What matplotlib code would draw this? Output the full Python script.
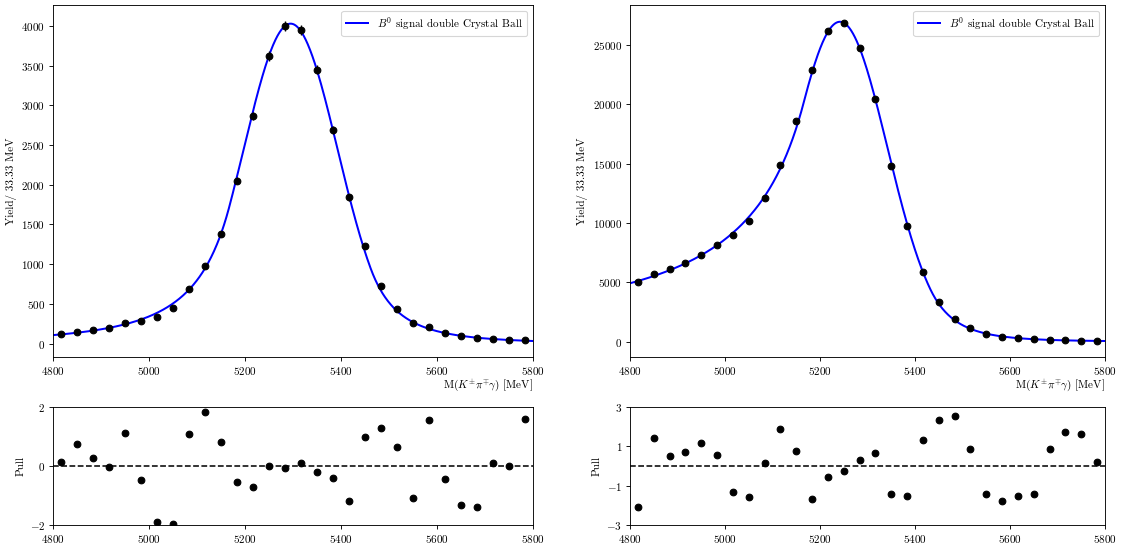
import numpy as np
import matplotlib
matplotlib.use("Agg")
import matplotlib.pyplot as plt

plt.rcParams["font.family"] = "serif"
plt.rcParams["font.serif"] = ["cmr10", "DejaVu Serif"]
plt.rcParams["mathtext.fontset"] = "cm"
plt.rcParams["axes.formatter.use_mathtext"] = True
plt.rcParams["font.size"] = 10

# ---- data ----
bin_edges = np.linspace(4800, 5800, 31)
bin_centers = 0.5 * (bin_edges[:-1] + bin_edges[1:])

yield_left = [115, 145, 165, 195, 255, 285, 340, 450, 685, 975,
              1380, 2050, 2865, 3620, 4000, 3945, 3450, 2690, 1845, 1225,
              720, 435, 260, 210, 130, 90, 65, 58, 50, 47]
pull_left = [0.13, 0.74, 0.26, -0.04, 1.12, -0.46, -1.91, -1.96, 1.07, 1.83,
             0.81, -0.53, -0.71, 0.01, -0.07, 0.09, -0.20, -0.40, -1.19, 1.00,
             1.29, 0.66, -1.10, 1.56, -0.43, -1.33, -1.40, 0.11, 0.01, 1.61]

yield_right = [5050, 5700, 6100, 6650, 7330, 8100, 8940, 10200, 12100, 14850,
               18600, 22900, 26150, 26850, 24700, 20400, 14800, 9700, 5900, 3330,
               1930, 1120, 670, 390, 280, 190, 140, 110, 80, 55]
pull_right = [-2.09, 1.43, 0.49, 0.70, 1.17, 0.58, -1.34, -1.60, 0.14, 1.87,
              0.75, -1.68, -0.54, -0.27, 0.31, 0.65, -1.43, -1.53, 1.33, 2.36,
              2.52, 0.87, -1.41, -1.80, -1.51, -1.41, 0.87, 1.72, 1.62, 0.22]

# double Crystal Ball parameters: norm, mu, sigma, alphaL, nL, alphaR, nR
dcb_left = [4030, 5295, 98, 1.3, 2.7, 1.7, 3.3]
dcb_right = [26950, 5242, 100, 0.76, 1.15, 1.9, 5.75]

legend_label = r"$B^0$ signal double Crystal Ball"
xlabel = r"M$(K^{\pm}\pi^{\mp}\gamma)$ [MeV]"
ylabel = "Yield/ 33.33 MeV"


def dcb(x, norm, mu, sigma, aL, nL, aR, nR):
    t = (x - mu) / sigma
    out = np.exp(-0.5 * t ** 2)
    left = t < -aL
    right = t > aR
    out[left] = np.exp(-0.5 * aL ** 2) * (1 + aL / nL * (-t[left] - aL)) ** (-nL)
    out[right] = np.exp(-0.5 * aR ** 2) * (1 + aR / nR * (t[right] - aR)) ** (-nR)
    return norm * out


DPI = 80
W = 1122.0
H = 545.0
fig = plt.figure(figsize=(W / DPI, H / DPI), dpi=DPI)

specs = [
    (53, 480, yield_left, pull_left, dcb_left, [-2, 0, 2], (-2, 2)),
    (630, 475, yield_right, pull_right, dcb_right, [-3, -1, 1, 3], (-3, 3)),
]
xfine = np.linspace(4800, 5800, 1000)
for (x0, w, yv, pv, par, pticks, plim) in specs:
    ax = fig.add_axes([x0 / W, 1 - 357 / H, w / W, 352 / H])
    yv = np.array(yv, dtype=float)
    ax.plot(xfine, dcb(xfine, *par), color="blue", lw=1.8, label=legend_label, zorder=2)
    ax.errorbar(bin_centers, yv, yerr=np.sqrt(yv), fmt="o", color="black",
                ms=6, elinewidth=1.2, capsize=0, zorder=3)
    ax.set_xlim(4800, 5800)
    ax.set_xlabel(xlabel, loc="right", labelpad=1)
    ax.set_ylabel(ylabel)
    ax.legend(loc="upper right", handlelength=2.0)

    axp = fig.add_axes([x0 / W, 1 - 525 / H, w / W, 118 / H])
    axp.plot(bin_centers, pv, "o", color="black", ms=6)
    axp.axhline(0, color="black", ls="--", lw=1.4)
    axp.set_xlim(4800, 5800)
    axp.set_ylim(*plim)
    axp.set_yticks(pticks)
    axp.set_ylabel("Pull")

fig.savefig("out.png", dpi=DPI)
